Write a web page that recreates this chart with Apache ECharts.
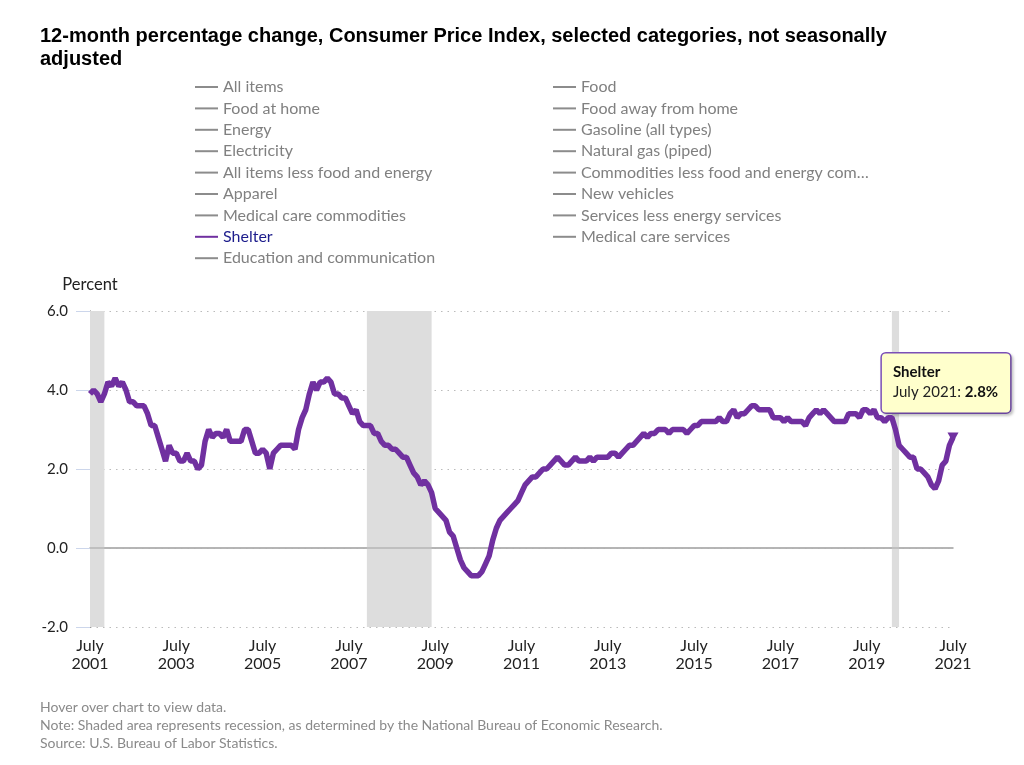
<!DOCTYPE html>
<html>
<head>
<meta charset="utf-8">
<script src="https://cdn.jsdelivr.net/npm/echarts@6/dist/echarts.min.js"></script>
<style>
html,body{margin:0;padding:0;background:#fff;}
#chart{width:1024px;height:765px;}
</style>
</head>
<body>
<div id="chart"></div>
<script>
// ---------- data ----------
const monthNames = ['January','February','March','April','May','June','July','August','September','October','November','December'];
const startYear = 2001;
const startMonthIndex = 6; // July

// Shelter, 12-month percent change (July 2001 .. July 2021)
const shelterValues = [
  // 2001 Jul-Dec
  3.9, 4.0, 3.9, 3.7, 3.9, 4.2,
  // 2002
  4.1, 4.3, 4.1, 4.2, 4.0, 3.7, 3.7, 3.6, 3.6, 3.6, 3.4, 3.1,
  // 2003
  3.1, 2.8, 2.5, 2.2, 2.6, 2.4, 2.4, 2.2, 2.2, 2.4, 2.2, 2.2,
  // 2004
  2.0, 2.1, 2.7, 3.0, 2.8, 2.9, 2.9, 2.8, 3.0, 2.7, 2.7, 2.7,
  // 2005
  2.7, 3.0, 3.0, 2.7, 2.4, 2.4, 2.5, 2.4, 2.0, 2.4, 2.5, 2.6,
  // 2006
  2.6, 2.6, 2.6, 2.5, 3.0, 3.3, 3.5, 3.9, 4.2, 4.0, 4.2, 4.2,
  // 2007
  4.3, 4.2, 3.9, 3.9, 3.8, 3.8, 3.6, 3.4, 3.5, 3.2, 3.1, 3.1,
  // 2008
  3.1, 2.9, 2.9, 2.7, 2.6, 2.6, 2.5, 2.5, 2.4, 2.3, 2.3, 2.1,
  // 2009
  1.9, 1.8, 1.6, 1.7, 1.6, 1.4, 1.0, 0.9, 0.8, 0.7, 0.4, 0.3,
  // 2010
  0.0, -0.3, -0.5, -0.6, -0.7, -0.7, -0.7, -0.6, -0.4, -0.2, 0.2, 0.5,
  // 2011
  0.7, 0.8, 0.9, 1.0, 1.1, 1.2, 1.4, 1.6, 1.7, 1.8, 1.8, 1.9,
  // 2012
  2.0, 2.0, 2.1, 2.2, 2.3, 2.2, 2.1, 2.1, 2.2, 2.3, 2.2, 2.2,
  // 2013
  2.2, 2.3, 2.2, 2.3, 2.3, 2.3, 2.3, 2.4, 2.4, 2.3, 2.4, 2.5,
  // 2014
  2.6, 2.6, 2.7, 2.8, 2.9, 2.8, 2.9, 2.9, 3.0, 3.0, 3.0, 2.9,
  // 2015
  3.0, 3.0, 3.0, 3.0, 2.9, 3.0, 3.1, 3.1, 3.2, 3.2, 3.2, 3.2,
  // 2016
  3.2, 3.3, 3.2, 3.2, 3.4, 3.5, 3.3, 3.4, 3.4, 3.5, 3.6, 3.6,
  // 2017
  3.5, 3.5, 3.5, 3.5, 3.3, 3.3, 3.3, 3.2, 3.3, 3.2, 3.2, 3.2,
  // 2018
  3.2, 3.1, 3.3, 3.4, 3.5, 3.4, 3.5, 3.4, 3.3, 3.2, 3.2, 3.2,
  // 2019
  3.2, 3.4, 3.4, 3.4, 3.3, 3.5, 3.5, 3.4, 3.5, 3.3, 3.3, 3.2,
  // 2020
  3.3, 3.3, 3.0, 2.6, 2.5, 2.4, 2.3, 2.3, 2.0, 2.0, 1.9, 1.8,
  // 2021 Jan-Jul
  1.6, 1.5, 1.7, 2.1, 2.2, 2.6, 2.8
];

// month category labels
const categories = [];
for (let i = 0; i < shelterValues.length; i++) {
  const m = (startMonthIndex + i) % 12;
  const y = startYear + Math.floor((startMonthIndex + i) / 12);
  categories.push(monthNames[m] + ' ' + y);
}

// recessions (NBER), clipped to chart range
const recessionStarts = ['July 2001', 'December 2007', 'February 2020'];
const recessionEnds   = ['November 2001', 'June 2009', 'April 2020'];

const yTicks = [-2, 0, 2, 4, 6];

const legendLeftNames = [
  'All items', 'Food at home', 'Energy', 'Electricity', 'All items less food and energy',
  'Apparel', 'Medical care commodities', 'Shelter', 'Education and communication'
];
const legendRightNames = [
  'Food', 'Food away from home', 'Gasoline (all types)', 'Natural gas (piped)',
  'Commodities less food and energy commodities', 'New vehicles',
  'Services less energy services', 'Medical care services'
];

const activeSeries = 'Shelter';
const titleText = '12-month percentage change, Consumer Price Index, selected categories, not seasonally\nadjusted';
const footerLines = [
  'Hover over chart to view data.',
  'Note: Shaded area represents recession, as determined by the National Bureau of Economic Research.',
  'Source: U.S. Bureau of Labor Statistics.'
];

// ---------- chart ----------
const FONT = 'Lato, "Noto Sans", sans-serif';
const PURPLE = '#7030a0';
const GREY_LINE = '#8c8c8c';
const chart = echarts.init(document.getElementById('chart'), null, {renderer: 'canvas'});

const lastIdx = shelterValues.length - 1;

function legendData(names) {
  return names.map(n => n === activeSeries
    ? {name: n, textStyle: {color: '#1d1d8c'}}
    : {name: n});
}
const legendCommon = {
  orient: 'vertical',
  icon: 'rect',
  itemWidth: 23,
  itemHeight: 2,
  itemGap: 5.4,
  selectedMode: false,
  textStyle: {fontFamily: FONT, fontSize: 16, color: '#808080', lineHeight: 16},
  formatter: function (name) {
    return name.length > 40 ? name.slice(0, 36) + '…' : name;
  }
};

const allNames = legendLeftNames.concat(legendRightNames);
const series = allNames.map(n => {
  if (n !== activeSeries) {
    return {name: n, type: 'line', data: [], color: GREY_LINE, symbol: 'none'};
  }
  return {
    name: n,
    type: 'line',
    data: shelterValues,
    color: PURPLE,
    symbol: 'none',
    lineStyle: {width: 5.5, color: PURPLE},
    z: 5,
    markArea: {
      silent: true,
      itemStyle: {color: '#dddddd'},
      data: recessionStarts.map((s, i) => [{xAxis: s}, {xAxis: recessionEnds[i]}])
    },
    markLine: {
      silent: true,
      symbol: 'none',
      label: {show: false},
      lineStyle: {color: '#b5b5b5', type: 'solid', width: 1.5},
      data: [{yAxis: 0}]
    },
    markPoint: {
      silent: true,
      symbol: 'triangle',
      symbolRotate: 180,
      symbolSize: [11, 10],
      itemStyle: {color: PURPLE},
      data: [{coord: [categories[lastIdx], shelterValues[lastIdx]]}],
      label: {
        show: true,
        position: 'top',
        distance: 20,
        offset: [-7, 0],
        backgroundColor: '#ffffcc',
        borderColor: '#7b4fb8',
        borderWidth: 1.5,
        borderRadius: 4,
        padding: [9, 12, 10, 11],
        shadowColor: 'rgba(0,0,0,0.18)',
        shadowBlur: 3,
        shadowOffsetX: 2,
        shadowOffsetY: 2,
        formatter: function () {
          return '{t|' + activeSeries + '}\n{n|' + categories[lastIdx] + ': }{b|' +
            shelterValues[lastIdx].toFixed(1) + '%}';
        },
        rich: {
          t: {fontFamily: FONT, fontSize: 15, fontWeight: 'bold', color: '#111', lineHeight: 20, align: 'left'},
          n: {fontFamily: FONT, fontSize: 15, color: '#222', lineHeight: 20, align: 'left'},
          b: {fontFamily: FONT, fontSize: 15, fontWeight: 'bold', color: '#111', lineHeight: 20, align: 'left'}
        }
      }
    }
  };
});

const option = {
  animation: false,
  backgroundColor: '#ffffff',
  title: [
    {
      text: titleText,
      left: 35,
      top: 20,
      textStyle: {fontFamily: '"Liberation Sans", Arial, sans-serif', fontSize: 20, fontWeight: 'bold', color: '#000', lineHeight: 23}
    },
    {
      text: footerLines.join('\n'),
      left: 35,
      top: 693,
      textStyle: {fontFamily: FONT, fontSize: 14, fontWeight: 'normal', color: '#8a8a8a', lineHeight: 18}
    }
  ],
  legend: [
    Object.assign({}, legendCommon, {left: 190, top: 74, data: legendData(legendLeftNames)}),
    Object.assign({}, legendCommon, {left: 548, top: 74, data: legendData(legendRightNames)})
  ],
  grid: {left: 90, right: 71, top: 311, bottom: 138, containLabel: false},
  xAxis: {
    type: 'category',
    data: categories,
    boundaryGap: false,
    axisLine: {show: true, lineStyle: {color: '#a0a0a0', width: 1.5}},
    axisTick: {show: false},
    splitLine: {show: false},
    axisLabel: {
      interval: function (idx) { return idx % 24 === 0; },
      showMaxLabel: true,
      margin: 10,
      fontFamily: FONT,
      fontSize: 16,
      lineHeight: 18,
      color: '#222',
      formatter: function (v) { return v.replace(' ', '\n'); }
    }
  },
  yAxis: {
    type: 'value',
    min: yTicks[0],
    max: yTicks[yTicks.length - 1],
    interval: 2,
    name: 'Percent',
    nameLocation: 'end',
    nameGap: 18,
    nameTextStyle: {fontFamily: FONT, fontSize: 16.5, color: '#222', align: 'center'},
    axisLine: {show: true, lineStyle: {color: '#666', width: 1}},
    axisTick: {show: true, length: 14, lineStyle: {color: '#ccd6eb', width: 1}},
    splitLine: {show: true, lineStyle: {color: '#bbbbbb', type: [1.5, 5], width: 1}},
    axisLabel: {
      margin: 22,
      fontFamily: FONT,
      fontSize: 15,
      color: '#222',
      formatter: function (v) { return v.toFixed(1); }
    }
  },
  series: series
};

chart.setOption(option);
</script>
</body>
</html>
